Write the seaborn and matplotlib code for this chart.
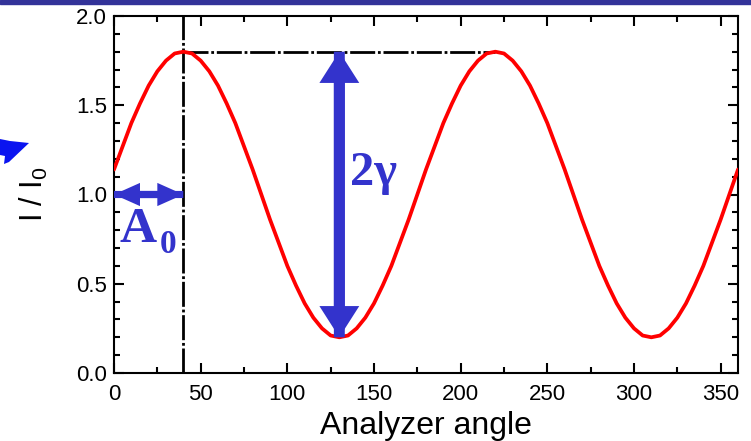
import numpy as np
import pandas as pd
import matplotlib
matplotlib.use("Agg")
import matplotlib.pyplot as plt
import seaborn as sns
from matplotlib.patches import Rectangle, Polygon, FancyArrow

# ---- data (I/I0 vs analyzer angle, 5 deg steps) ----
angles = list(range(0, 365, 5))
intensity = [
    1.14, 1.27, 1.40, 1.51, 1.61, 1.69, 1.75, 1.79, 1.80, 1.79, 1.75, 1.69, 1.61,
    1.51, 1.40, 1.27, 1.14, 1.00, 0.86, 0.73, 0.60, 0.49, 0.39, 0.31, 0.25, 0.21,
    0.20, 0.21, 0.25, 0.31, 0.39, 0.49, 0.60, 0.73, 0.86, 1.00,
    1.14, 1.27, 1.40, 1.51, 1.61, 1.69, 1.75, 1.79, 1.80, 1.79, 1.75, 1.69, 1.61,
    1.51, 1.40, 1.27, 1.14, 1.00, 0.86, 0.73, 0.60, 0.49, 0.39, 0.31, 0.25, 0.21,
    0.20, 0.21, 0.25, 0.31, 0.39, 0.49, 0.60, 0.73, 0.86, 1.00, 1.14,
]
peak_angle = 40        # A0
second_peak_angle = 220
trough_angle = 130
peak_value = 1.8
trough_value = 0.2
offset_value = 1.0

x_ticks = [0, 50, 100, 150, 200, 250, 300, 350]
y_ticks = [0.0, 0.5, 1.0, 1.5, 2.0]

df = pd.DataFrame({"angle": angles, "I": intensity})

sns.set_theme(style="ticks")
plt.rcParams["font.family"] = ["Liberation Sans", "DejaVu Sans"]
plt.rcParams["text.color"] = "black"
plt.rcParams["axes.labelcolor"] = "black"
plt.rcParams["xtick.color"] = "black"
plt.rcParams["ytick.color"] = "black"

fig = plt.figure(figsize=(7.51, 4.41), dpi=100)
ax = fig.add_axes([114 / 751, 68 / 441, 624 / 751, 357 / 441])

blue = "#3333cc"
serif = ["Liberation Serif", "DejaVu Serif"]

# dash-dot guide lines
dash = (0, (9, 1.0, 1.0, 1.0))
ax.plot([peak_angle, peak_angle], [0, 2.0], color="black", lw=2.0,
        linestyle=dash, zorder=2)
ax.plot([peak_angle, second_peak_angle], [peak_value, peak_value],
        color="black", lw=2.0, linestyle=dash, zorder=2)

# red curve
sns.lineplot(data=df, x="angle", y="I", color="#ff0000", lw=2.7, ax=ax,
             zorder=3)

# vertical double arrow (2 gamma): two overlapping full-length arrows
for start, end in ((trough_value, peak_value), (peak_value, trough_value)):
    ax.add_patch(FancyArrow(trough_angle, start, 0, end - start, width=6.3,
                            head_width=23, head_length=0.175,
                            length_includes_head=True, color=blue, lw=0,
                            zorder=4))
# horizontal double arrow (A0)
for start, end in ((0, peak_angle), (peak_angle, 0)):
    ax.add_patch(FancyArrow(start, offset_value, end - start, 0, width=0.04,
                            head_width=0.13, head_length=15,
                            length_includes_head=True, color=blue, lw=0,
                            zorder=4))

ax.text(136, 1.055, "2\u03b3", color=blue, fontsize=35, fontweight="bold",
        family=serif, ha="left", va="baseline", zorder=5)
ax.text(3, 0.735, "A", color=blue, fontsize=37, fontweight="bold",
        family=serif, ha="left", va="baseline", zorder=5)
ax.text(26.5, 0.67, "0", color=blue, fontsize=24, fontweight="bold",
        family=serif, ha="left", va="baseline", zorder=5)

ax.set_xlim(0, 360)
ax.set_ylim(0, 2.0)
ax.set_xticks(x_ticks)
ax.set_yticks(y_ticks)
ax.set_xticks(np.arange(25, 360, 50), minor=True)
ax.set_yticks(np.arange(0.1, 2.0, 0.1), minor=True)
ax.set_yticklabels([f"{v:.1f}" for v in y_ticks])
ax.tick_params(which="both", direction="in", top=True, right=True,
               colors="black", width=1.5)
ax.tick_params(which="major", length=7, labelsize=16)
ax.tick_params(axis="x", which="major", pad=8)
ax.tick_params(axis="y", which="major", pad=5)
ax.tick_params(which="minor", length=4.3)
for s in ax.spines.values():
    s.set_visible(True)
    s.set_color("black")
    s.set_linewidth(1.5)

ax.set_xlabel("Analyzer angle", fontsize=23, labelpad=4)
ax.set_ylabel("I / I$_\\mathregular{0}$", fontsize=22, labelpad=19)
ax.grid(False)

# top banner strip and cropped arrow fragment at left edge
fig.patches.append(Rectangle((0, 1 - 4 / 441), 1, 4 / 441,
                             transform=fig.transFigure, color="#333399",
                             zorder=0))
frag = [(0, 139), (10, 141), (29, 143), (9, 162), (4, 164), (5, 156), (0, 155)]
fig.patches.append(Polygon([(x / 751, 1 - y / 441) for x, y in frag],
                           closed=True, transform=fig.transFigure,
                           color="#0a14f0", lw=0))

fig.savefig("out.png", dpi=100)
